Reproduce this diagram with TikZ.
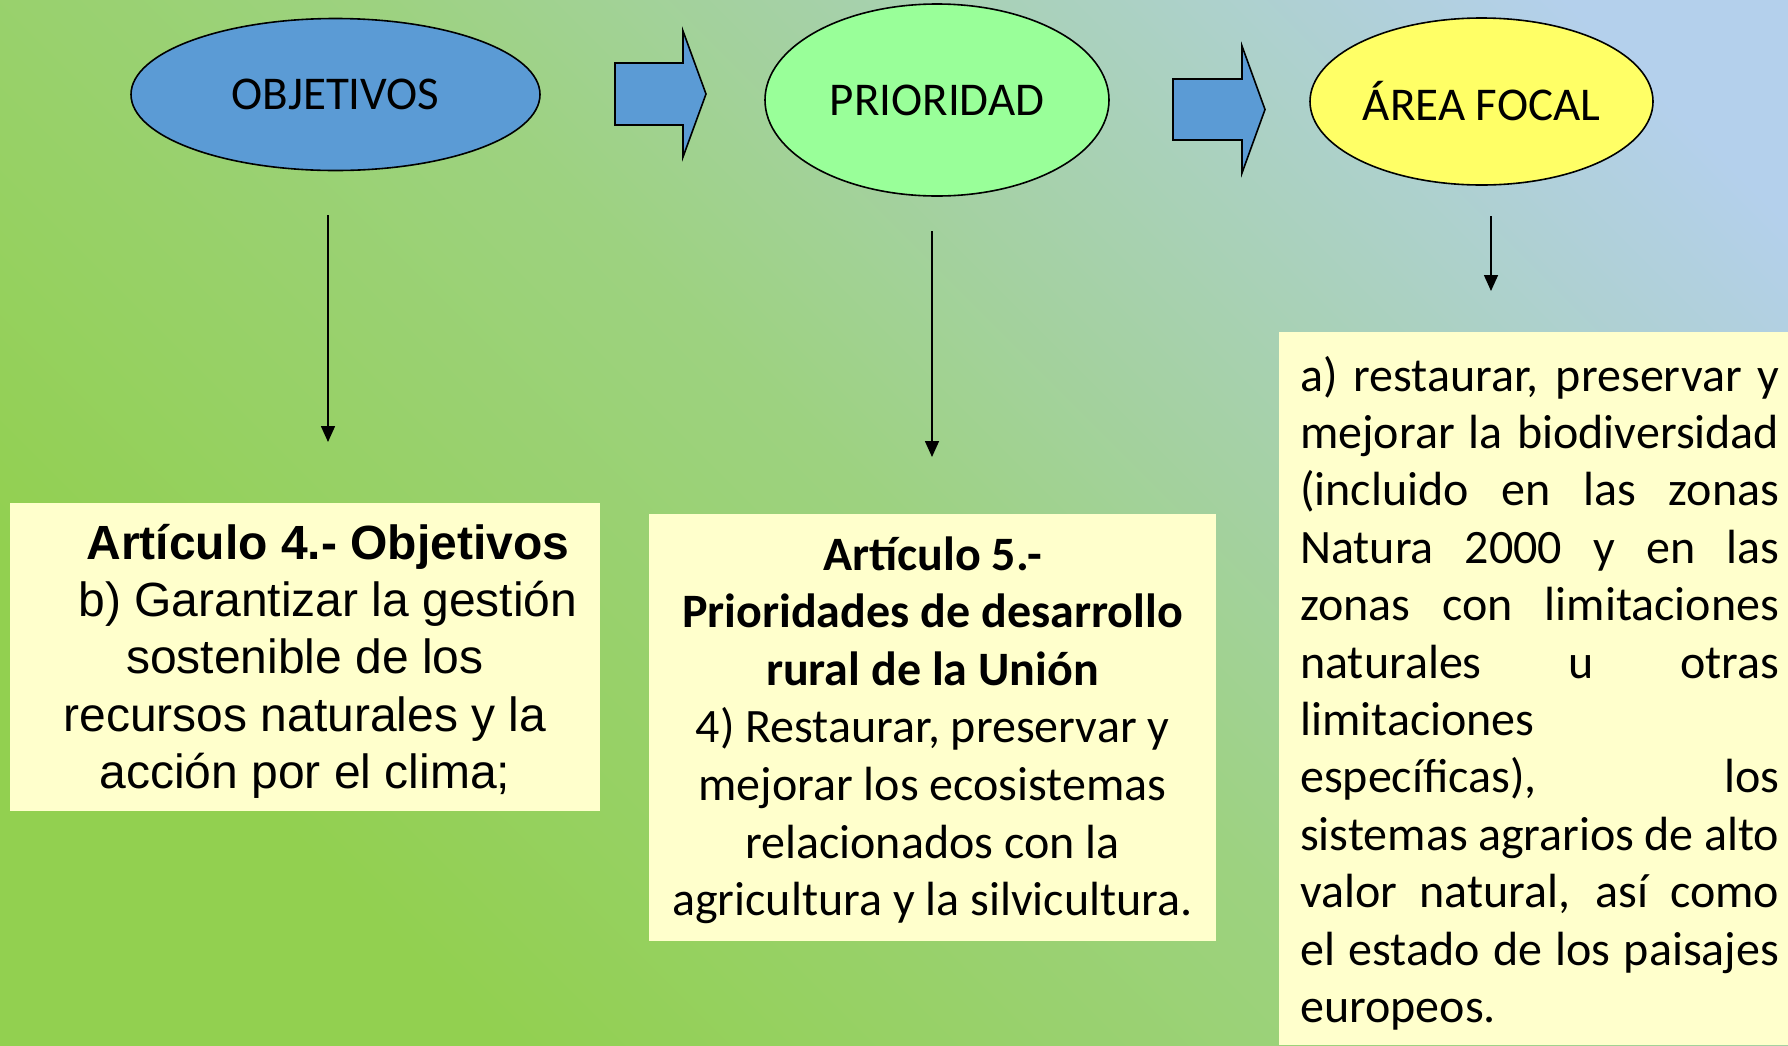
\documentclass[tikz,border=0pt]{standalone}
\usepackage{fontspec}
\setmainfont{Carlito}
\newfontfamily\arialf{Liberation Sans}
\usetikzlibrary{shapes.geometric,arrows.meta}
\definecolor{bgG}{RGB}{146,208,80}
\definecolor{bgM}{RGB}{157,210,128}
\definecolor{bgB}{RGB}{180,208,236}
\definecolor{objblue}{RGB}{91,155,213}
\definecolor{prigreen}{RGB}{153,255,153}
\definecolor{areayellow}{RGB}{255,255,102}
\definecolor{boxyellow}{RGB}{255,255,204}
\pgfdeclarehorizontalshading{bgshade}{100bp}{color(0bp)=(bgG); color(27bp)=(bgG); color(50bp)=(bgM); color(80bp)=(bgB); color(100bp)=(bgB)}
\begin{document}
\begin{tikzpicture}[x=1pt,y=-1pt,
  oval/.style={ellipse,draw=black,line width=1.6pt,inner sep=0pt,font=\fontsize{47}{56}\selectfont},
  infobox/.style={rectangle,fill=boxyellow,inner sep=0pt,anchor=north west},
  downarrow/.style={line width=1.6pt,-{Triangle[width=14pt,length=16pt]}},
  blockarrow/.style={fill=objblue,draw=black,line width=1.6pt,line join=miter},
  boxtext/.style={inner sep=0pt,anchor=base}]
\useasboundingbox (0,0) rectangle (1788,1045);
\shade[shading=bgshade,shading angle=45] (0,0) rectangle (1788,1045);

% ellipses
\node[oval,fill=objblue,minimum width=409pt,minimum height=152pt] (obj) at (335.5,94.5) {\raisebox{-2pt}{OBJETIVOS}};
\node[oval,fill=prigreen,minimum width=344pt,minimum height=192pt] (pri) at (937,100) {PRIORIDAD};
\node[oval,fill=areayellow,minimum width=343pt,minimum height=167pt] (area) at (1481.5,101.5) {ÁREA FOCAL};

% block arrows
\draw[blockarrow] (615,63) -- (683,63) -- (683,31) -- (706,94) -- (683,157) -- (683,125) -- (615,125) -- cycle;
\draw[blockarrow] (1173,79) -- (1242,79) -- (1242,46) -- (1265,109.5) -- (1242,173) -- (1242,140) -- (1173,140) -- cycle;

% boxes
\node[infobox,minimum width=590pt,minimum height=308pt] (box1) at (10,503) {};
\node[infobox,minimum width=567pt,minimum height=427pt] (box2) at (649,514) {};
\node[infobox,minimum width=509pt,minimum height=713pt] (box3) at (1279,332) {};

% down arrows
\coordinate (v1s) at (328,215); \coordinate (v1e) at (328,442);
\coordinate (v2s) at (932,231); \coordinate (v2e) at (932,457);
\coordinate (v3s) at (1491,216); \coordinate (v3e) at (1491,291);
\draw[downarrow] (v1s) -- (v1e);
\draw[downarrow] (v2s) -- (v2e);
\draw[downarrow] (v3s) -- (v3e);

% box texts
\node[boxtext] (t1) at (305,559) {\parbox[t]{590pt}{\centering\arialf\fontsize{48}{57.4}\selectfont
\hspace*{46pt}\textbf{Artículo 4.- Objetivos}\\
\hspace*{46pt}b) Garantizar la gestión\\
sostenible de los\\
recursos naturales y la\\
acción por el clima;}};

\node[boxtext] (t2) at (932.5,570) {\parbox[t]{567pt}{\centering\fontsize{48}{57.6}\selectfont
\textbf{Artículo 5.-}\\
\textbf{Prioridades de desarrollo}\\
\textbf{rural de la Unión}\\
4) Restaurar, preservar y\\
mejorar los ecosistemas\\
relacionados con la\\
agricultura y la silvicultura.}};

\node[boxtext,anchor=base west] (t3) at (1300,391) {\parbox[t]{479pt}{\fontsize{48}{57.4}\selectfont
\makebox[479pt][s]{a) restaurar, preservar y}\\
\makebox[479pt][s]{mejorar la biodiversidad}\\
\makebox[479pt][s]{(incluido en las zonas}\\
\makebox[479pt][s]{Natura 2000 y en las}\\
\makebox[479pt][s]{zonas con limitaciones}\\
\makebox[479pt][s]{naturales u otras}\\
\makebox[479pt][l]{limitaciones}\\
\makebox[479pt][s]{específicas), los}\\
\makebox[479pt][s]{sistemas agrarios de alto}\\
\makebox[479pt][s]{valor natural, así como}\\
\makebox[479pt][s]{el estado de los paisajes}\\
\makebox[479pt][l]{europeos.}}};
\end{tikzpicture}
\end{document}
